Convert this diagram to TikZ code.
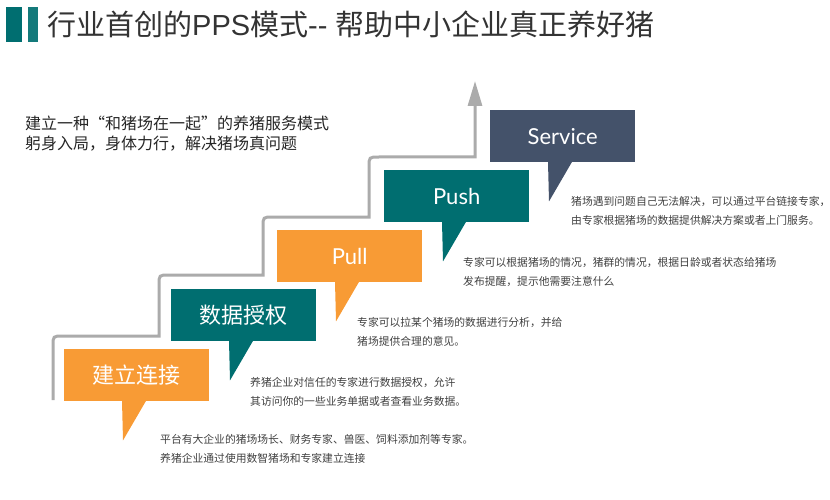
\documentclass[tikz,border=0pt]{standalone}
\usepackage{fontspec}
\setmainfont{Noto Sans CJK SC}
\newfontfamily\latinfont{Lato}
\newfontfamily\titlelatin{Liberation Sans}
\usetikzlibrary{arrows.meta,positioning,calc}
\definecolor{ppsorange}{HTML}{F89B35}
\definecolor{ppsteal}{HTML}{006E70}
\definecolor{ppsnavy}{HTML}{44526A}
\definecolor{ppsgray}{HTML}{ABABAB}
\definecolor{ppstext}{HTML}{404040}
\tikzset{
    bubble/.style={rectangle, minimum width=145pt, minimum height=52pt, inner sep=0pt, anchor=north west, text=white, font=\fontsize{22}{24}\selectfont},
    desc/.style={anchor=north west, inner sep=0pt, align=left, text=ppstext, font=\fontsize{10.8}{19.5}\selectfont},
    stairs/.style={draw=ppsgray, line width=3pt, -{Triangle[length=25pt,width=14pt]}},
}

\begin{document}
\begin{tikzpicture}[x=1pt, y=-1pt]
    \useasboundingbox (0,0) rectangle (830,500);
    % title bar
    \fill[ppsteal] (6,7) rectangle (22,42);
    \fill[ppsteal!92!white] (28,7) rectangle (38,42);
    \node[anchor=west, inner sep=0pt, text=black!80, font=\fontsize{29}{32}\selectfont] (title) at (47,24) {行业首创的{\titlelatin PPS}模式{\titlelatin -{}-\ }帮助中小企业真正养好猪};
    \node[anchor=north west, inner sep=0pt, align=left, text=black!85, font=\fontsize{16}{19.5}\selectfont] (intro) at (25,116) {建立一种“和猪场在一起”的养猪服务模式\\躬身入局，身体力行，解决猪场真问题};
    % stair line
    \coordinate (stairbase) at (53,400);
    \coordinate (stairtop) at (475,81);
    \draw[stairs] (stairbase) -- (53,346) .. controls (53,336) .. (63,336) -- (159,336)
        -- (159,285) .. controls (159,275) .. (169,275) -- (263,275)
        -- (263,227) .. controls (263,217) .. (273,217) -- (369,217)
        -- (369,167) .. controls (369,157) .. (379,157) -- (475,157) -- (stairtop);
    % speech bubbles
    \foreach[count=\i] \bx/\by/\col/\lbl in {64/349/ppsorange/建立连接, 171/289/ppsteal/数据授权, 277/230/ppsorange/{\latinfont Pull}, 384/170/ppsteal/{\latinfont Push}, 490/110/ppsnavy/{\latinfont Service}} {
        \node[bubble, fill=\col] (b\i) at (\bx,\by) {\lbl};
        \fill[\col] ([xshift=58pt,yshift=0.5pt]b\i.south west) -- ++(1,39.5) -- ([xshift=82pt,yshift=0.5pt]b\i.south west) -- cycle;
    }
    % descriptions
    \foreach[count=\i] \dx/\dy/\dtext in {160/434/{平台有大企业的猪场场长、财务专家、兽医、饲料添加剂等专家。\\养猪企业通过使用数智猪场和专家建立连接},
        250/377/{养猪企业对信任的专家进行数据授权，允许\\其访问你的一些业务单据或者查看业务数据。},
        357/317/{专家可以拉某个猪场的数据进行分析，并给\\猪场提供合理的意见。},
        463/257/{专家可以根据猪场的情况，猪群的情况，根据日龄或者状态给猪场\\发布提醒，提示他需要注意什么},
        571/196/{猪场遇到问题自己无法解决，可以通过平台链接专家，\\由专家根据猪场的数据提供解决方案或者上门服务。}} {
        \node[desc] (d\i) at (\dx,\dy) {\dtext};
    }
\end{tikzpicture}
\end{document}
